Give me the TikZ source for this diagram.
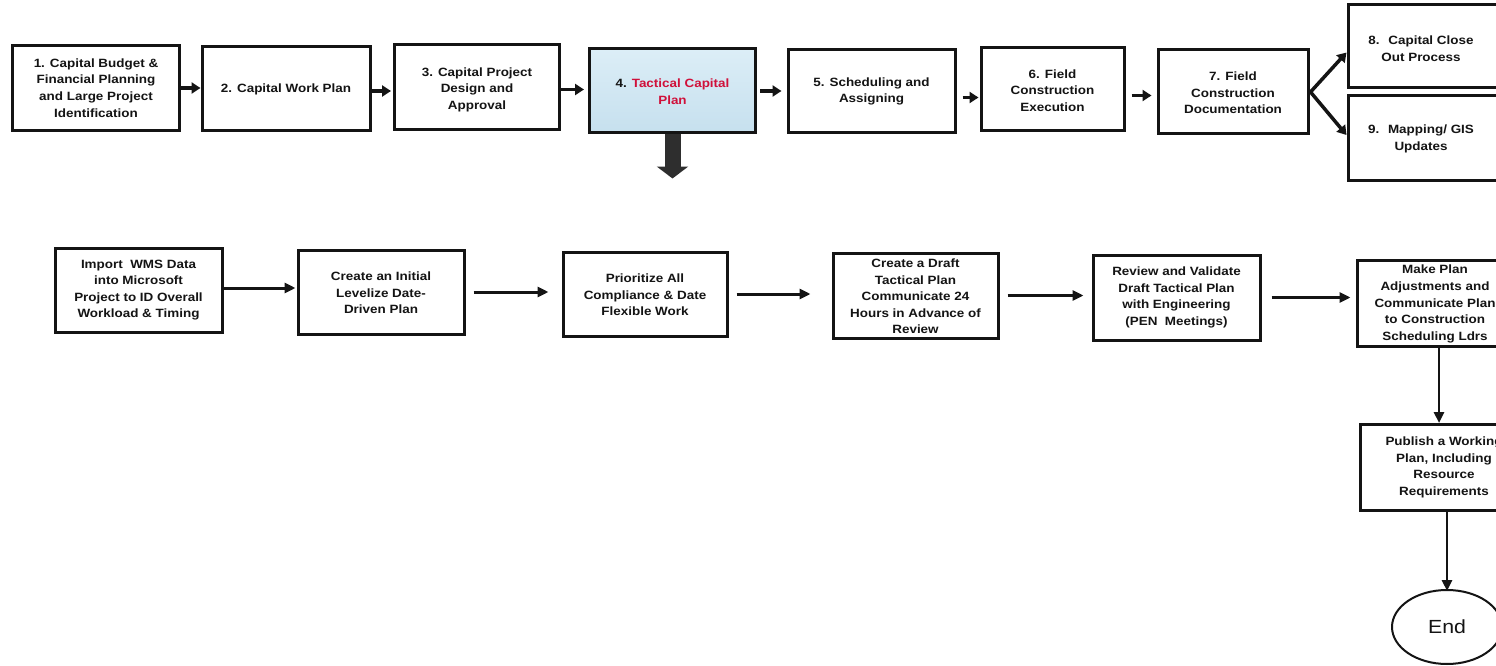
\documentclass[tikz,border=0pt]{standalone}
\usepackage{fontspec}
\setmainfont{Liberation Sans}[FakeStretch=1.12]
\usetikzlibrary{arrows.meta,shapes.geometric}
\definecolor{tacred}{HTML}{D0103A}
\definecolor{skytop}{HTML}{DCEEF7}
\definecolor{skybot}{HTML}{C6E0EE}
\definecolor{ink}{HTML}{141414}
\begin{document}
\begin{tikzpicture}[x=1pt,y=-1pt,
  box/.style={draw=ink, line width=3pt, inner sep=0pt},
  txt/.style={font=\fontsize{12}{16.6}\selectfont\bfseries, align=center, inner sep=0pt, text=ink},
  tarr/.style={draw=ink, line width=3.5pt, -{Triangle[width=11pt,length=9pt]}},
  barr/.style={draw=ink, line width=3pt, -{Triangle[width=10pt,length=11pt]}},
  varr/.style={draw=ink, line width=2.6pt, -{Triangle[width=10pt,length=11pt]}},
  bigarr/.style={draw=black!82, line width=16pt, -{Triangle[width=31pt,length=12pt]}}
]
\useasboundingbox (0,0) rectangle (1496,666);
\clip (0,0) rectangle (1496,666);
\fill[white] (0,0) rectangle (1496,666);

% ---- top row: the capital process ----
\node[box, minimum width=167pt, minimum height=85pt,
  label={[txt]center:1. Capital Budget \&\\Financial Planning\\and Large Project\\Identification}]
  (b1) at (96,88) {};
\node[box, minimum width=168pt, minimum height=84pt,
  label={[txt]center:2. Capital Work Plan}]
  (b2) at (286,89) {};
\node[box, minimum width=165pt, minimum height=85pt,
  label={[txt,yshift=-2pt]center:3. Capital Project\\Design and\\Approval}]
  (b3) at (477,87.5) {};
\node[box, top color=skytop, bottom color=skybot, minimum width=166pt, minimum height=84pt,
  label={[txt,yshift=-1pt]center:4. \textcolor{tacred}{Tactical Capital}\\\textcolor{tacred}{Plan}}]
  (b4) at (672.5,91) {};
\node[box, minimum width=167pt, minimum height=83pt,
  label={[txt]center:5. Scheduling and\\Assigning}]
  (b5) at (871.5,91.5) {};
\node[box, minimum width=143pt, minimum height=83pt,
  label={[txt,yshift=-1pt]center:6. Field\\Construction\\Execution}]
  (b6) at (1052.5,89.5) {};
\node[box, minimum width=150pt, minimum height=84pt,
  label={[txt,yshift=-1pt]center:7. Field\\Construction\\Documentation}]
  (b7) at (1233,92) {};
\node[box, minimum width=152pt, minimum height=83pt,
  label={[txt,xshift=-3pt,yshift=-2pt]center:8.~ Capital Close\\Out Process}]
  (b8) at (1424,46.5) {};
\node[box, minimum width=152pt, minimum height=84pt,
  label={[txt,xshift=-3pt,yshift=-1pt]center:9.~ Mapping/ GIS\\Updates}]
  (b9) at (1424,138) {};

\draw[tarr] (b1.east) -- (b1.east -| b2.west);
\draw[tarr] ([yshift=-2pt]b2.east) -- ([yshift=-2pt,xshift=-2pt]b2.east -| b3.west);
\draw[tarr] ([yshift=-2pt]b3.east) -- ([yshift=-2pt,xshift=-4pt]b3.east -| b4.west);
\draw[tarr] ([xshift=3pt]b4.east) -- ([xshift=-5pt]b4.east -| b5.west);
\draw[tarr] ([yshift=-6pt,xshift=6pt]b5.east) -- ([yshift=-6pt,xshift=-1pt]b5.east -| b6.west);
\draw[tarr] ([yshift=-6pt,xshift=6pt]b6.east) -- ([yshift=-6pt,xshift=-5pt]b6.east -| b7.west);
\draw[tarr] ([xshift=1pt]b7.east) -- ([yshift=-6pt]b8.west);
\draw[tarr] ([xshift=1pt]b7.east) -- ([yshift=3pt]b9.west);

% ---- expansion of step 4 ----
\coordinate (drop) at ([yshift=-44pt]b4.south);
\draw[bigarr] (b4.south) -- (drop);

% ---- tactical planning steps ----
\node[box, minimum width=167pt, minimum height=84pt,
  label={[txt]center:Import~ WMS Data\\into Microsoft\\Project to ID Overall\\Workload \& Timing}]
  (sa) at (138.5,290) {};
\node[box, minimum width=166pt, minimum height=84pt,
  label={[txt,yshift=-1pt]center:Create an Initial\\Levelize Date-\\Driven Plan}]
  (sb) at (381,292) {};
\node[box, minimum width=164pt, minimum height=84pt,
  label={[txt,yshift=-1pt]center:Prioritize All\\Compliance \& Date\\Flexible Work}]
  (sc) at (645,294) {};
\node[box, minimum width=165pt, minimum height=85pt,
  label={[txt,yshift=-1pt]center:Create a Draft\\Tactical Plan\\Communicate 24\\Hours in Advance of\\Review}]
  (sd) at (915.5,295.5) {};
\node[box, minimum width=167pt, minimum height=85pt,
  label={[txt]center:Review and Validate\\Draft Tactical Plan\\with Engineering\\(PEN~ Meetings)}]
  (se) at (1176.5,297.5) {};
\node[box, minimum width=162pt, minimum height=86pt,
  label={[txt,xshift=-3pt,yshift=-1pt]center:Make Plan\\Adjustments and\\Communicate Plan\\to Construction\\Scheduling Ldrs}]
  (sf) at (1438,303) {};
\node[box, minimum width=168pt, minimum height=86pt,
  label={[txt]center:Publish a Working\\Plan, Including\\Resource\\Requirements}]
  (sg) at (1444,467.5) {};
\node[ellipse, draw=ink, line width=2pt, minimum width=110pt, minimum height=74pt,
  inner sep=0pt, font=\fontsize{19}{19}\selectfont, text=ink] (end) at (1447,627) {End};

\draw[barr] ([yshift=2pt]sa.east) -- ([yshift=2pt,xshift=-1pt]sa.east -| sb.west);
\draw[barr] ([xshift=8pt]sb.east) -- ([xshift=-13pt]sb.east -| sc.west);
\draw[barr] ([xshift=8pt]sc.east) -- ([xshift=-21pt]sc.east -| sd.west);
\draw[barr] ([xshift=8pt]sd.east) -- ([xshift=-8pt]sd.east -| se.west);
\draw[barr] ([xshift=10pt]se.east) -- ([xshift=-5pt]se.east -| sf.west);
\draw[varr] ([xshift=1pt]sf.south) -- ([xshift=1pt]sf.south |- sg.north);
\draw[varr] ([xshift=3pt]sg.south) -- ([xshift=3pt,yshift=-2pt]sg.south |- end.north);
\end{tikzpicture}
\end{document}
